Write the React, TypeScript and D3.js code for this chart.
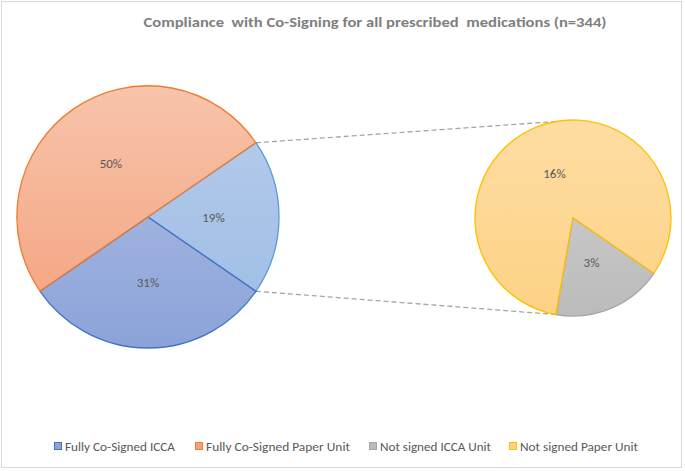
import React from "react";
import * as d3 from "d3";

const title = "Compliance  with Co-Signing for all prescribed  medications (n=344)";
const categories = ["Fully Co-Signed ICCA", "Fully Co-Signed Paper Unit", "Not signed ICCA Unit", "Not signed Paper Unit"];
const counts = [106, 172, 12, 54];
const labels = ["31%", "50%", "3%", "16%"];
const fillTop = ["#b5c0e3", "#f8c4ab", "#d3d3d3", "#fedda3"];
const fillBottom = ["#8ba3da", "#f3a07b", "#bbbbbb", "#fdd285"];
const strokes = ["#4472c4", "#ed7d31", "#a5a5a5", "#ffc000"];
const otherLabel = "19%";
const otherTop = "#b8cdeb";
const otherBottom = "#9bbbe5";
const otherStroke = "#5b9bd5";
const legendX = [55, 196, 370, 510];
const legendW = [110, 144, 111, 118];

const W = 685, H = 471;

export default function App() {
  const total = d3.sum(counts);
  const otherVal = counts[2] + counts[3];
  const otherAngle = (otherVal / total) * 2 * Math.PI;

  const main = { cx: 148, cy: 217, r: 131 };
  const sec = { cx: 573, cy: 218, r: 98 };

  const mainData = [
    { key: "other", value: otherVal, label: otherLabel, top: otherTop, bottom: otherBottom, stroke: otherStroke },
    { key: "c0", value: counts[0], label: labels[0], top: fillTop[0], bottom: fillBottom[0], stroke: strokes[0] },
    { key: "c1", value: counts[1], label: labels[1], top: fillTop[1], bottom: fillBottom[1], stroke: strokes[1] },
  ];
  const mStart = Math.PI / 2 - otherAngle / 2;
  const mainPie = d3.pie<any>().sort(null).value((d: any) => d.value)
    .startAngle(mStart).endAngle(mStart + 2 * Math.PI)(mainData);

  const secData = [
    { key: "c2", value: counts[2], label: labels[2], top: fillTop[2], bottom: fillBottom[2], stroke: strokes[2] },
    { key: "c3", value: counts[3], label: labels[3], top: fillTop[3], bottom: fillBottom[3], stroke: strokes[3] },
  ];
  const sStart = Math.PI / 2 + otherAngle / 2;
  const secPie = d3.pie<any>().sort(null).value((d: any) => d.value)
    .startAngle(sStart).endAngle(sStart + 2 * Math.PI)(secData);

  const mainArc = d3.arc<any>().innerRadius(0).outerRadius(main.r);
  const secArc = d3.arc<any>().innerRadius(0).outerRadius(sec.r);
  const mainLab = d3.arc<any>().innerRadius(main.r * 0.5).outerRadius(main.r * 0.5);
  const secLab = d3.arc<any>().innerRadius(sec.r * 0.49).outerRadius(sec.r * 0.49);

  const pt = (c: any, a: number) => [c.cx + c.r * Math.sin(a), c.cy - c.r * Math.cos(a)];
  const o = mainPie[0];
  const mTop = pt(main, o.startAngle);
  const mBot = pt(main, o.endAngle);
  const greyEnd = secPie[0].endAngle;
  const sBot = pt(sec, greyEnd);
  const sTop = pt(sec, Math.PI - greyEnd);

  const font = "Calibri, Carlito, 'Liberation Sans', Arial, sans-serif";

  const grad = (s: any, r: number) => (
    <linearGradient key={s.data.key} id={"g" + s.data.key} gradientUnits="userSpaceOnUse"
      x1={0} y1={-r} x2={0} y2={r}>
      <stop offset="0" stopColor={s.data.top} />
      <stop offset="1" stopColor={s.data.bottom} />
    </linearGradient>
  );

  return (
    <svg width={W} height={H} style={{ position: "fixed", left: 0, top: 0, background: "#fff" }} fontFamily={font}>
      <defs>
        {mainPie.map((s: any) => grad(s, main.r))}
        {secPie.map((s: any) => grad(s, sec.r))}
      </defs>
      <rect x={1.5} y={1.5} width={680} height={466} fill="#fff" stroke="#d9d9d9" strokeWidth={1} />
      <text x={375} y={27} textAnchor="middle" fontSize={14} fontWeight="bold" fill="#7f7f7f"
        textLength={463} lengthAdjust="spacingAndGlyphs" style={{ whiteSpace: "pre" }}>{title}</text>

      <line x1={mTop[0]} y1={mTop[1]} x2={sTop[0]} y2={sTop[1]} stroke="#a6a6a6" strokeWidth={1.3} strokeDasharray="5,3" />
      <line x1={mBot[0]} y1={mBot[1]} x2={sBot[0]} y2={sBot[1]} stroke="#a6a6a6" strokeWidth={1.3} strokeDasharray="5,3" />

      <g transform={`translate(${main.cx},${main.cy})`}>
        {mainPie.map((s: any) => (
          <path key={s.data.key} d={mainArc(s) as string} fill={`url(#g${s.data.key})`} />
        ))}
        {mainPie.map((s: any) => (
          <path key={s.data.key + "s"} d={mainArc(s) as string} fill="none" stroke={s.data.stroke}
            strokeWidth={1.3} strokeLinejoin="round" />
        ))}
        {mainPie.map((s: any) => {
          const [x, y] = mainLab.centroid(s);
          return <text key={s.data.key + "l"} x={x} y={y + 4.5} textAnchor="middle"
            fontSize={13} fill="#595959">{s.data.label}</text>;
        })}
      </g>
      <g transform={`translate(${sec.cx},${sec.cy})`}>
        {secPie.map((s: any) => (
          <path key={s.data.key} d={secArc(s) as string} fill={`url(#g${s.data.key})`} />
        ))}
        {secPie.map((s: any) => (
          <path key={s.data.key + "s"} d={secArc(s) as string} fill="none" stroke={s.data.stroke}
            strokeWidth={1.3} strokeLinejoin="round" />
        ))}
        {secPie.map((s: any) => {
          const [x, y] = secLab.centroid(s);
          return <text key={s.data.key + "l"} x={x} y={y + 4.5} textAnchor="middle"
            fontSize={13} fill="#595959">{s.data.label}</text>;
        })}
      </g>

      {categories.map((c, i) => (
        <g key={c}>
          <rect x={legendX[i] - 0.5} y={442.5} width={7} height={7} fill={fillBottom[i]} stroke={strokes[i]} strokeWidth={1} />
          <text x={legendX[i] + 10} y={450.5} fontSize={12.5} fill="#595959" textLength={legendW[i]}
            lengthAdjust="spacingAndGlyphs">{c}</text>
        </g>
      ))}
    </svg>
  );
}
